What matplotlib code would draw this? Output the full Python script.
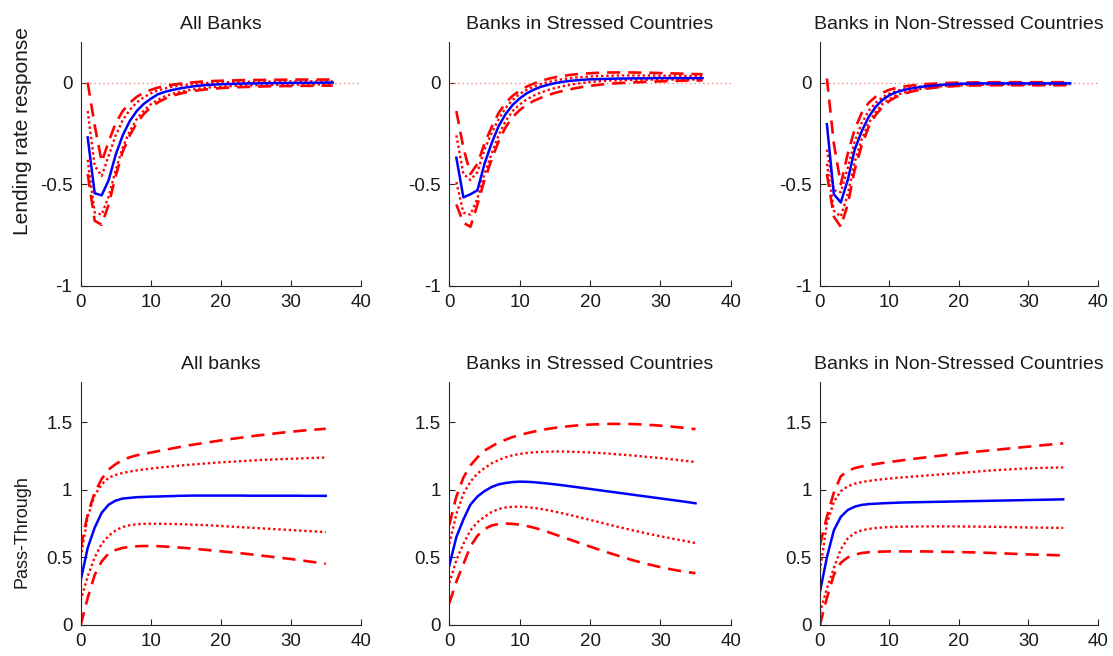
import matplotlib
matplotlib.use('Agg')
import matplotlib.pyplot as plt

# horizons
h_top = list(range(1, 37))
h_bot = list(range(0, 36))

titles_top = ['All Banks', 'Banks in Stressed Countries', 'Banks in Non-Stressed Countries']
titles_bot = ['All banks', 'Banks in Stressed Countries', 'Banks in Non-Stressed Countries']

# ---- lending rate responses (top row) ----
blue_tl = [-0.27, -0.545, -0.555, -0.48, -0.355, -0.26, -0.19, -0.14, -0.105, -0.08, -0.058, -0.046,
           -0.037, -0.03, -0.024, -0.019, -0.015, -0.012, -0.01, -0.008, -0.007, -0.006, -0.005, -0.004,
           -0.004, -0.003, -0.003, -0.002, -0.002, -0.002, -0.001, -0.001, -0.001, -0.001, 0.0, 0.0]
u90_tl = [0.0, -0.21, -0.39, -0.29, -0.2, -0.14, -0.1, -0.07, -0.05, -0.036, -0.025, -0.017,
          -0.011, -0.006, -0.002, 0.001, 0.004, 0.006, 0.008, 0.009, 0.01, 0.011, 0.012, 0.012,
          0.013, 0.013, 0.014, 0.014, 0.014, 0.015, 0.015, 0.015, 0.015, 0.015, 0.015, 0.015]
u68_tl = [-0.14, -0.41, -0.46, -0.36, -0.26, -0.185, -0.135, -0.098, -0.072, -0.053, -0.039, -0.029,
          -0.021, -0.015, -0.011, -0.007, -0.004, -0.002, 0.0, 0.001, 0.002, 0.003, 0.003, 0.004,
          0.004, 0.005, 0.005, 0.005, 0.006, 0.006, 0.006, 0.006, 0.006, 0.006, 0.006, 0.006]
l68_tl = [-0.38, -0.64, -0.65, -0.56, -0.43, -0.32, -0.24, -0.18, -0.138, -0.107, -0.085, -0.068,
          -0.056, -0.047, -0.04, -0.034, -0.029, -0.025, -0.022, -0.02, -0.018, -0.016, -0.015, -0.014,
          -0.013, -0.012, -0.012, -0.011, -0.011, -0.01, -0.01, -0.01, -0.01, -0.009, -0.009, -0.009]
l90_tl = [-0.45, -0.68, -0.70, -0.6, -0.46, -0.34, -0.26, -0.2, -0.155, -0.122, -0.098, -0.08,
          -0.066, -0.056, -0.048, -0.042, -0.037, -0.033, -0.03, -0.027, -0.025, -0.023, -0.022, -0.021,
          -0.02, -0.019, -0.018, -0.018, -0.017, -0.017, -0.016, -0.016, -0.016, -0.015, -0.015, -0.015]

blue_tm = [-0.37, -0.565, -0.55, -0.53, -0.40, -0.30, -0.215, -0.155, -0.11, -0.078, -0.053, -0.035,
           -0.021, -0.011, -0.003, 0.003, 0.008, 0.011, 0.014, 0.016, 0.017, 0.018, 0.019, 0.02,
           0.02, 0.021, 0.021, 0.021, 0.022, 0.022, 0.022, 0.022, 0.022, 0.022, 0.022, 0.022]
u90_tm = [-0.14, -0.32, -0.45, -0.40, -0.30, -0.22, -0.15, -0.10, -0.065, -0.04, -0.02, -0.005,
          0.008, 0.018, 0.026, 0.032, 0.037, 0.041, 0.044, 0.046, 0.048, 0.049, 0.05, 0.05,
          0.05, 0.05, 0.049, 0.049, 0.048, 0.047, 0.046, 0.045, 0.044, 0.043, 0.042, 0.041]
u68_tm = [-0.26, -0.45, -0.48, -0.44, -0.33, -0.25, -0.18, -0.125, -0.085, -0.056, -0.036, -0.02,
          -0.008, 0.002, 0.01, 0.016, 0.021, 0.025, 0.028, 0.03, 0.032, 0.033, 0.034, 0.035,
          0.035, 0.035, 0.035, 0.035, 0.035, 0.034, 0.034, 0.034, 0.033, 0.033, 0.033, 0.032]
l68_tm = [-0.49, -0.64, -0.65, -0.57, -0.45, -0.35, -0.26, -0.19, -0.14, -0.108, -0.083, -0.064,
          -0.049, -0.037, -0.027, -0.019, -0.012, -0.006, -0.001, 0.003, 0.006, 0.008, 0.01, 0.011,
          0.012, 0.013, 0.014, 0.014, 0.015, 0.015, 0.015, 0.015, 0.015, 0.015, 0.015, 0.015]
l90_tm = [-0.6, -0.69, -0.71, -0.6, -0.48, -0.38, -0.29, -0.22, -0.17, -0.135, -0.11, -0.09,
          -0.075, -0.062, -0.051, -0.042, -0.034, -0.027, -0.021, -0.016, -0.012, -0.008, -0.005, -0.003,
          -0.001, 0.001, 0.002, 0.004, 0.005, 0.006, 0.007, 0.008, 0.009, 0.01, 0.01, 0.011]

blue_tr = [-0.205, -0.55, -0.59, -0.48, -0.33, -0.24, -0.17, -0.12, -0.085, -0.062, -0.047, -0.037,
           -0.03, -0.024, -0.019, -0.016, -0.013, -0.01, -0.008, -0.006, -0.005, -0.005, -0.004, -0.004,
           -0.004, -0.004, -0.004, -0.004, -0.004, -0.004, -0.004, -0.004, -0.004, -0.004, -0.004, -0.004]
u90_tr = [0.02, -0.3, -0.5, -0.35, -0.23, -0.15, -0.1, -0.07, -0.05, -0.035, -0.026, -0.02,
          -0.015, -0.011, -0.008, -0.006, -0.004, -0.002, -0.001, 0.0, 0.0, 0.001, 0.001, 0.001,
          0.002, 0.002, 0.002, 0.002, 0.002, 0.002, 0.002, 0.002, 0.002, 0.002, 0.002, 0.002]
u68_tr = [-0.33, -0.53, -0.54, -0.42, -0.29, -0.2, -0.14, -0.1, -0.072, -0.054, -0.041, -0.032,
          -0.026, -0.021, -0.017, -0.014, -0.011, -0.009, -0.007, -0.006, -0.005, -0.004, -0.004, -0.003,
          -0.003, -0.003, -0.003, -0.003, -0.003, -0.003, -0.003, -0.003, -0.003, -0.003, -0.003, -0.003]
l68_tr = [-0.4, -0.63, -0.66, -0.55, -0.39, -0.28, -0.2, -0.145, -0.105, -0.08, -0.062, -0.05,
          -0.041, -0.034, -0.028, -0.024, -0.02, -0.017, -0.015, -0.013, -0.012, -0.011, -0.011, -0.01,
          -0.01, -0.01, -0.01, -0.01, -0.01, -0.01, -0.01, -0.01, -0.01, -0.01, -0.01, -0.01]
l90_tr = [-0.45, -0.66, -0.71, -0.6, -0.43, -0.31, -0.22, -0.16, -0.12, -0.09, -0.07, -0.056,
          -0.046, -0.038, -0.032, -0.027, -0.023, -0.02, -0.018, -0.016, -0.015, -0.014, -0.014, -0.013,
          -0.013, -0.013, -0.013, -0.013, -0.013, -0.013, -0.013, -0.013, -0.013, -0.013, -0.013, -0.013]

# ---- pass-through (bottom row) ----
blue_bl = [0.33, 0.57, 0.72, 0.83, 0.89, 0.92, 0.935, 0.94, 0.945, 0.947, 0.949, 0.95,
           0.952, 0.953, 0.955, 0.956, 0.957, 0.957, 0.957, 0.957, 0.957, 0.957, 0.957, 0.957,
           0.956, 0.956, 0.956, 0.956, 0.956, 0.956, 0.956, 0.956, 0.955, 0.955, 0.955, 0.955]
u90_bl = [0.57, 0.82, 0.98, 1.08, 1.15, 1.19, 1.22, 1.24, 1.255, 1.265, 1.275, 1.285,
          1.295, 1.305, 1.315, 1.325, 1.333, 1.341, 1.349, 1.357, 1.365, 1.372, 1.379, 1.386,
          1.393, 1.4, 1.406, 1.412, 1.418, 1.424, 1.429, 1.434, 1.439, 1.443, 1.447, 1.451]
u68_bl = [0.5, 0.8, 0.96, 1.04, 1.09, 1.11, 1.125, 1.135, 1.143, 1.15, 1.157, 1.163,
          1.168, 1.173, 1.178, 1.183, 1.187, 1.191, 1.195, 1.199, 1.203, 1.206, 1.209, 1.212,
          1.215, 1.218, 1.221, 1.223, 1.225, 1.227, 1.229, 1.231, 1.233, 1.235, 1.237, 1.238]
l68_bl = [0.18, 0.36, 0.5, 0.6, 0.66, 0.7, 0.725, 0.738, 0.745, 0.748, 0.749, 0.749,
          0.748, 0.747, 0.746, 0.744, 0.742, 0.74, 0.738, 0.735, 0.732, 0.729, 0.726, 0.723,
          0.72, 0.717, 0.714, 0.711, 0.708, 0.705, 0.702, 0.699, 0.696, 0.693, 0.69, 0.687]
l90_bl = [0.0, 0.2, 0.37, 0.47, 0.53, 0.555, 0.57, 0.578, 0.582, 0.584, 0.584, 0.583,
          0.58, 0.577, 0.573, 0.569, 0.565, 0.56, 0.555, 0.55, 0.545, 0.54, 0.535, 0.53,
          0.524, 0.518, 0.512, 0.506, 0.5, 0.494, 0.488, 0.481, 0.474, 0.467, 0.46, 0.453]

blue_bm = [0.44, 0.65, 0.78, 0.89, 0.95, 0.99, 1.02, 1.04, 1.05, 1.057, 1.06, 1.059,
           1.056, 1.051, 1.046, 1.04, 1.034, 1.027, 1.02, 1.013, 1.006, 0.999, 0.992, 0.985,
           0.978, 0.971, 0.964, 0.957, 0.95, 0.943, 0.936, 0.929, 0.922, 0.915, 0.908, 0.9]
u90_bm = [0.74, 0.95, 1.09, 1.18, 1.24, 1.29, 1.32, 1.35, 1.37, 1.39, 1.405, 1.418,
          1.43, 1.44, 1.45, 1.458, 1.465, 1.47, 1.475, 1.479, 1.482, 1.484, 1.486, 1.487,
          1.487, 1.487, 1.486, 1.484, 1.481, 1.478, 1.474, 1.47, 1.465, 1.46, 1.455, 1.448]
u68_bm = [0.6, 0.82, 0.97, 1.06, 1.12, 1.16, 1.195, 1.22, 1.24, 1.255, 1.265, 1.272,
          1.277, 1.28, 1.282, 1.283, 1.283, 1.282, 1.28, 1.278, 1.276, 1.273, 1.27, 1.266,
          1.262, 1.258, 1.254, 1.249, 1.244, 1.239, 1.234, 1.229, 1.223, 1.217, 1.211, 1.205]
l68_bm = [0.31, 0.48, 0.6, 0.7, 0.76, 0.8, 0.835, 0.857, 0.869, 0.874, 0.875, 0.872,
          0.866, 0.858, 0.849, 0.838, 0.827, 0.815, 0.803, 0.79, 0.777, 0.764, 0.751, 0.738,
          0.725, 0.713, 0.701, 0.689, 0.678, 0.667, 0.656, 0.646, 0.636, 0.626, 0.616, 0.606]
l90_bm = [0.16, 0.32, 0.45, 0.58, 0.66, 0.71, 0.735, 0.747, 0.75, 0.748, 0.742, 0.732,
          0.72, 0.705, 0.688, 0.67, 0.652, 0.634, 0.616, 0.598, 0.58, 0.562, 0.545, 0.528,
          0.512, 0.496, 0.48, 0.466, 0.452, 0.44, 0.428, 0.417, 0.407, 0.398, 0.39, 0.383]

blue_br = [0.245, 0.5, 0.7, 0.8, 0.85, 0.875, 0.888, 0.894, 0.897, 0.9, 0.902, 0.904,
           0.906, 0.907, 0.908, 0.909, 0.91, 0.911, 0.912, 0.913, 0.914, 0.915, 0.916, 0.917,
           0.918, 0.919, 0.92, 0.921, 0.922, 0.923, 0.924, 0.925, 0.926, 0.927, 0.928, 0.929]
u90_br = [0.59, 0.8, 0.98, 1.1, 1.14, 1.16, 1.172, 1.182, 1.19, 1.198, 1.205, 1.212,
          1.219, 1.226, 1.232, 1.238, 1.244, 1.25, 1.256, 1.262, 1.268, 1.274, 1.279, 1.284,
          1.289, 1.294, 1.299, 1.304, 1.309, 1.314, 1.319, 1.324, 1.329, 1.334, 1.339, 1.343]
u68_br = [0.4, 0.75, 0.91, 0.99, 1.025, 1.045, 1.057, 1.065, 1.072, 1.078, 1.083, 1.088,
          1.092, 1.096, 1.1, 1.104, 1.108, 1.112, 1.116, 1.12, 1.124, 1.128, 1.132, 1.136,
          1.14, 1.144, 1.147, 1.15, 1.153, 1.156, 1.158, 1.16, 1.162, 1.163, 1.164, 1.165]
l68_br = [0.09, 0.27, 0.42, 0.56, 0.64, 0.68, 0.70, 0.71, 0.717, 0.721, 0.724, 0.726,
          0.727, 0.728, 0.728, 0.729, 0.729, 0.729, 0.729, 0.729, 0.729, 0.728, 0.728, 0.727,
          0.727, 0.726, 0.725, 0.724, 0.723, 0.722, 0.721, 0.72, 0.72, 0.719, 0.718, 0.718]
l90_br = [0.0, 0.2, 0.37, 0.46, 0.5, 0.52, 0.532, 0.538, 0.541, 0.543, 0.544, 0.544,
          0.544, 0.544, 0.544, 0.544, 0.543, 0.542, 0.541, 0.54, 0.539, 0.538, 0.537, 0.535,
          0.534, 0.532, 0.53, 0.528, 0.526, 0.524, 0.522, 0.52, 0.519, 0.518, 0.516, 0.515]

top_panels = [(blue_tl, u90_tl, u68_tl, l68_tl, l90_tl),
              (blue_tm, u90_tm, u68_tm, l68_tm, l90_tm),
              (blue_tr, u90_tr, u68_tr, l68_tr, l90_tr)]
bot_panels = [(blue_bl, u90_bl, u68_bl, l68_bl, l90_bl),
              (blue_bm, u90_bm, u68_bm, l68_bm, l90_bm),
              (blue_br, u90_br, u68_br, l68_br, l90_br)]

plt.rcParams['font.family'] = ['Liberation Sans', 'DejaVu Sans']
axcol = '#262626'
txtcol = '#1a1a1a'

fig = plt.figure(figsize=(11.13, 6.56), dpi=100)

lefts = [0.0725, 0.4037, 0.7367]
widths = [0.2516, 0.2528, 0.2498]


def style_axes(ax):
    for s in ['top', 'right']:
        ax.spines[s].set_visible(False)
    for s in ['left', 'bottom']:
        ax.spines[s].set_color(axcol)
        ax.spines[s].set_linewidth(0.8)
    ax.tick_params(direction='in', length=4, width=0.8, colors=axcol, labelsize=13.5,
                   labelcolor=txtcol, pad=6)


def draw_bands(ax, x, blue, u90, u68, l68, l90):
    for y in (u90, l90):
        ax.plot(x, y, color='red', linewidth=1.9, dashes=(5, 3))
    for y in (u68, l68):
        ax.plot(x, y, color='red', linewidth=1.7, dashes=(1, 1.2))
    ax.plot(x, blue, color='blue', linewidth=1.8)


for i in range(3):
    # top row: lending rate response
    ax = fig.add_axes([lefts[i], 0.5645, widths[i], 0.3715])
    ax.plot([0, 40], [0, 0], color='#ff7070', linewidth=0.9, dashes=(1, 2.5))
    draw_bands(ax, h_top, *top_panels[i])
    ax.set_xlim(0, 40)
    ax.set_ylim(-1, 0.2)
    ax.set_xticks([0, 10, 20, 30, 40])
    ax.set_yticks([-1, -0.5, 0])
    ax.set_yticklabels(['-1', '-0.5', '0'])
    ax.set_title(titles_top[i], fontsize=14, pad=9, color=txtcol)
    style_axes(ax)

    # bottom row: pass-through
    ax = fig.add_axes([lefts[i], 0.0473, widths[i], 0.371])
    draw_bands(ax, h_bot, *bot_panels[i])
    ax.set_xlim(0, 40)
    ax.set_ylim(0, 1.8)
    ax.set_xticks([0, 10, 20, 30, 40])
    ax.set_yticks([0, 0.5, 1, 1.5])
    ax.set_yticklabels(['0', '0.5', '1', '1.5'])
    ax.set_title(titles_bot[i], fontsize=14, pad=9, color=txtcol)
    style_axes(ax)

# row labels
fig.text(0.020, 0.80, 'Lending rate response', rotation=90, fontsize=15,
         ha='center', va='center', color=txtcol)
fig.text(0.020, 0.19, 'Pass-Through', rotation=90, fontsize=13,
         ha='center', va='center', color=txtcol)

fig.savefig('out.png', dpi=100)
